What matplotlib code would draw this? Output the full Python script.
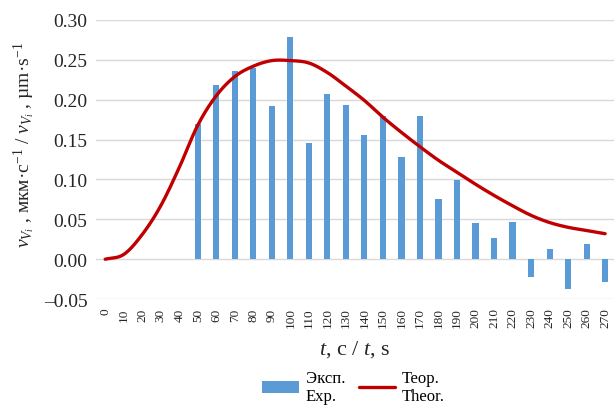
import matplotlib
import numpy as np

matplotlib.use("Agg")
import matplotlib.pyplot as plt

TIME_S = list(range(0, 280, 10))
EXP_VALUES = [
    np.nan, np.nan, np.nan, np.nan, np.nan,
    0.170, 0.218, 0.236, 0.240, 0.192, 0.278, 0.146, 0.207, 0.193,
    0.156, 0.179, 0.128, 0.180, 0.076, 0.099, 0.046, 0.027, 0.047,
    -0.022, 0.013, -0.037, 0.019, -0.029,
]
THEOR_VALUES = [
    0.000, 0.006, 0.031, 0.067, 0.115, 0.168, 0.205, 0.229, 0.242, 0.249,
    0.249, 0.246, 0.234, 0.217, 0.199, 0.178, 0.159, 0.141, 0.124, 0.109,
    0.094, 0.080, 0.067, 0.055, 0.046, 0.040, 0.036, 0.032,
]
Y_TICKS = [-0.05, 0.00, 0.05, 0.10, 0.15, 0.20, 0.25, 0.30]


def catmull_rom(x: np.ndarray, y: np.ndarray, steps: int = 20) -> tuple[np.ndarray, np.ndarray]:
    # smoothed line through the points, like a spreadsheet "smoothed line"
    px = np.concatenate([[2 * x[0] - x[1]], x, [2 * x[-1] - x[-2]]])
    py = np.concatenate([[2 * y[0] - y[1]], y, [2 * y[-1] - y[-2]]])
    xs, ys = [], []
    t = np.linspace(0, 1, steps, endpoint=False)
    for i in range(1, len(px) - 2):
        for arr, out in ((px, xs), (py, ys)):
            p0, p1, p2, p3 = arr[i - 1], arr[i], arr[i + 1], arr[i + 2]
            out.append(
                0.5 * ((2 * p1) + (-p0 + p2) * t
                       + (2 * p0 - 5 * p1 + 4 * p2 - p3) * t ** 2
                       + (-p0 + 3 * p1 - 3 * p2 + p3) * t ** 3)
            )
    xs.append([x[-1]])
    ys.append([y[-1]])
    return np.concatenate(xs), np.concatenate(ys)


def main() -> None:
    plt.rcParams.update(
        {
            "font.family": ["Liberation Serif", "DejaVu Serif"],
            "mathtext.fontset": "custom",
            "mathtext.rm": "Liberation Serif",
            "mathtext.it": "Liberation Serif:italic",
            "mathtext.bf": "Liberation Serif:bold",
        }
    )
    fig = plt.figure(figsize=(6.15, 4.10), dpi=100)
    ax = fig.add_axes((0.156, 0.268, 0.843, 0.681))

    pos = np.arange(len(TIME_S))
    bars = ax.bar(pos, EXP_VALUES, width=0.33, color="#5B9BD5", zorder=2)
    sx, sy = catmull_rom(pos.astype(float), np.array(THEOR_VALUES))
    (line,) = ax.plot(sx, sy, color="#C00000", linewidth=2.4, zorder=3,
                      solid_capstyle="round")

    ax.set_xlim(-0.5, len(TIME_S) - 0.5)
    ax.set_ylim(-0.05, 0.30)
    ax.set_yticks(Y_TICKS)
    ax.set_yticklabels([f"{v:.2f}".replace("-", "–") for v in Y_TICKS], fontsize=14)
    ax.set_xticks(pos)
    ax.set_xticklabels([str(t) for t in TIME_S], rotation=90, fontsize=9.5)
    ax.grid(axis="y", color="#d9d9d9", linewidth=1.0, zorder=0)
    for side in ("top", "right", "left", "bottom"):
        ax.spines[side].set_visible(False)
    ax.tick_params(axis="both", length=0, pad=6, colors="#262626")

    fig.text(0.040, 0.646, r"$v_{V_i}$ , мкм·с$^{-1}$ / $v_{V_i}$ , µm·s$^{-1}$",
             fontsize=14, rotation=90, ha="center", va="center", color="#262626")
    ax.set_xlabel(r"$t$, с / $t$, s", fontsize=16, labelpad=8, color="#262626")

    fig.legend([bars, line], ["Эксп.\nExp.", "Теор.\nTheor."], loc="upper center",
               bbox_to_anchor=(0.575, 0.112), ncol=2, frameon=False,
               fontsize=12, handlelength=2.2, columnspacing=0.8, handletextpad=0.4,
               borderaxespad=0, labelspacing=0.2)

    fig.savefig("out.png", dpi=100, facecolor="white")
    plt.close(fig)


if __name__ == "__main__":
    main()
